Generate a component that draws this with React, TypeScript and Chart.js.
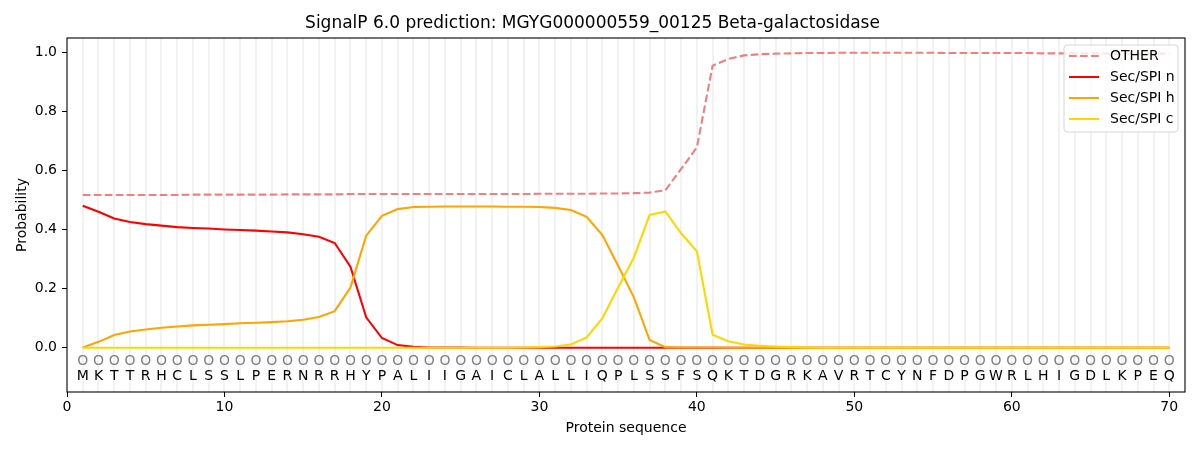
import React, { useRef, useEffect } from 'react';
import { Chart, registerables } from 'chart.js';

Chart.register(...registerables);

const residues = [
  'M', 'K', 'T', 'T', 'R', 'H', 'C', 'L', 'S', 'S',
  'L', 'P', 'E', 'R', 'N', 'R', 'R', 'H', 'Y', 'P',
  'A', 'L', 'I', 'I', 'G', 'A', 'I', 'C', 'L', 'A',
  'L', 'L', 'I', 'Q', 'P', 'L', 'S', 'S', 'F', 'S',
  'Q', 'K', 'T', 'D', 'G', 'R', 'K', 'A', 'V', 'R',
  'T', 'C', 'Y', 'N', 'F', 'D', 'P', 'G', 'W', 'R',
  'L', 'H', 'I', 'G', 'D', 'L', 'K', 'P', 'E', 'Q',
];

const otherProb = [
  0.518, 0.518, 0.518, 0.518, 0.518, 0.518, 0.518, 0.519, 0.519, 0.519,
  0.519, 0.519, 0.519, 0.520, 0.520, 0.520, 0.520, 0.521, 0.521, 0.521,
  0.521, 0.521, 0.521, 0.521, 0.521, 0.521, 0.521, 0.521, 0.521, 0.522,
  0.522, 0.522, 0.522, 0.523, 0.523, 0.524, 0.526, 0.534, 0.606, 0.679,
  0.956, 0.979, 0.991, 0.995, 0.997, 0.998, 0.999, 0.999, 1.0, 1.0,
  1.0, 1.0, 1.0, 1.0, 1.0, 0.999, 0.999, 0.999, 0.999, 0.999,
  0.999, 0.998, 0.998, 0.998, 0.998, 0.997, 0.997, 0.997, 0.997, 0.997,
];

const nProb = [
  0.481, 0.461, 0.438, 0.426, 0.419, 0.414, 0.409, 0.406, 0.404, 0.401,
  0.399, 0.397, 0.394, 0.391, 0.385, 0.376, 0.355, 0.275, 0.103, 0.033,
  0.009, 0.003, 0.001, 0.001, 0.001, 0.0, 0.0, 0.0, 0.0, 0.0,
  0.0, 0.0, 0.0, 0.0, 0.0, 0.0, 0.0, 0.0, 0.0, 0.0,
  0.0, 0.0, 0.0, 0.0, 0.0, 0.0, 0.0, 0.0, 0.0, 0.0,
  0.0, 0.0, 0.0, 0.0, 0.0, 0.0, 0.0, 0.0, 0.0, 0.0,
  0.0, 0.0, 0.0, 0.0, 0.0, 0.0, 0.0, 0.0, 0.0, 0.0,
];

const hProb = [
  0.001, 0.020, 0.043, 0.055, 0.062, 0.068, 0.072, 0.076, 0.078, 0.080,
  0.083, 0.085, 0.087, 0.090, 0.095, 0.104, 0.124, 0.204, 0.380, 0.447,
  0.470, 0.477, 0.478, 0.479, 0.479, 0.479, 0.479, 0.478, 0.478, 0.477,
  0.474, 0.467, 0.444, 0.382, 0.278, 0.171, 0.026, 0.002, 0.001, 0.001,
  0.001, 0.0, 0.0, 0.0, 0.0, 0.0, 0.0, 0.0, 0.0, 0.0,
  0.0, 0.0, 0.0, 0.0, 0.0, 0.0, 0.0, 0.0, 0.0, 0.0,
  0.0, 0.0, 0.0, 0.0, 0.0, 0.0, 0.0, 0.0, 0.0, 0.0,
];

const cProb = [
  0.0, 0.0, 0.0, 0.0, 0.0, 0.0, 0.0, 0.0, 0.0, 0.0,
  0.0, 0.0, 0.0, 0.0, 0.0, 0.0, 0.0, 0.0, 0.0, 0.0,
  0.0, 0.0, 0.0, 0.0, 0.0, 0.0, 0.0, 0.0, 0.001, 0.002,
  0.004, 0.011, 0.035, 0.100, 0.204, 0.306, 0.450, 0.462, 0.388, 0.327,
  0.044, 0.022, 0.011, 0.007, 0.004, 0.002, 0.001, 0.0, 0.0, 0.0,
  0.0, 0.0, 0.0, 0.0, 0.0, 0.0, 0.0, 0.0, 0.0, 0.0,
  0.0, 0.0, 0.0, 0.0, 0.0, 0.0, 0.0, 0.0, 0.0, 0.0,
];

const xTicks = [0, 10, 20, 30, 40, 50, 60, 70];
const yTicks = [0.0, 0.2, 0.4, 0.6, 0.8, 1.0];

const FONT = "'DejaVu Sans', sans-serif";

const toPoints = (vals: number[]) => vals.map((v, i) => ({ x: i + 1, y: v }));

// grid lines per residue, residue letters under the zero line, box frame and a matplotlib-like legend
const residuePlugin = {
  id: 'residues',
  beforeDatasetsDraw(chart: any) {
    const { ctx, chartArea, scales } = chart;
    ctx.save();
    ctx.strokeStyle = '#f2f2f2';
    ctx.lineWidth = 2;
    residues.forEach((_, i) => {
      const px = Math.round(scales.x.getPixelForValue(i + 1));
      ctx.beginPath();
      ctx.moveTo(px, chartArea.top);
      ctx.lineTo(px, chartArea.bottom);
      ctx.stroke();
    });
    ctx.restore();
  },
  afterDatasetsDraw(chart: any) {
    const { ctx, chartArea, scales } = chart;
    ctx.save();
    ctx.font = `14px ${FONT}`;
    ctx.textAlign = 'center';
    ctx.textBaseline = 'middle';
    residues.forEach((r, i) => {
      const px = scales.x.getPixelForValue(i + 1);
      ctx.fillStyle = '#808080';
      ctx.fillText('O', px, scales.y.getPixelForValue(-0.047));
      ctx.fillStyle = '#000';
      ctx.fillText(r, px, scales.y.getPixelForValue(-0.097));
    });

    // legend
    const w = 114;
    const h = 87;
    const lx = chartArea.right - 7 - w;
    const ly = chartArea.top + 7;
    ctx.beginPath();
    ctx.roundRect(lx, ly, w, h, 3);
    ctx.fillStyle = 'rgba(255,255,255,0.8)';
    ctx.fill();
    ctx.strokeStyle = '#d6d6d6';
    ctx.lineWidth = 1;
    ctx.stroke();
    ctx.textAlign = 'left';
    chart.data.datasets.forEach((ds: any, i: number) => {
      const yy = ly + 11 + i * 21;
      ctx.beginPath();
      ctx.setLineDash(ds.borderDash || []);
      ctx.strokeStyle = ds.borderColor;
      ctx.lineWidth = 2;
      ctx.moveTo(lx + 5, yy);
      ctx.lineTo(lx + 35, yy);
      ctx.stroke();
      ctx.setLineDash([]);
      ctx.fillStyle = '#000';
      ctx.fillText(ds.label, lx + 46, yy);
    });

    // frame
    ctx.strokeStyle = '#000';
    ctx.lineWidth = 1.1;
    ctx.strokeRect(chartArea.left, chartArea.top, chartArea.right - chartArea.left, chartArea.bottom - chartArea.top);
    ctx.restore();
  },
};

function SignalPChart() {
  const chartRef = useRef<HTMLCanvasElement>(null);
  const chartInstance = useRef<any>(null);

  useEffect(() => {
    document.body.style.margin = '0';
    const ctx = chartRef.current.getContext('2d');

    if (chartInstance.current) {
      chartInstance.current.destroy();
    }

    const line = { pointRadius: 0, borderWidth: 2.1, tension: 0, fill: false };

    chartInstance.current = new Chart(ctx, {
      type: 'line',
      data: {
        datasets: [
          { ...line, label: 'OTHER', data: toPoints(otherProb), borderColor: '#f08080', borderDash: [7.7, 3.3], order: 3 },
          { ...line, label: 'Sec/SPI n', data: toPoints(nProb), borderColor: '#ff0000', order: 2 },
          { ...line, label: 'Sec/SPI h', data: toPoints(hProb), borderColor: '#ffa500', order: 1 },
          { ...line, label: 'Sec/SPI c', data: toPoints(cProb), borderColor: '#ffd700', order: 0 },
        ],
      },
      options: {
        animation: false,
        responsive: true,
        maintainAspectRatio: false,
        layout: { padding: { left: 0, right: 15, top: 0, bottom: 0 } },
        plugins: {
          legend: { display: false },
          tooltip: { enabled: false },
          title: {
            display: true,
            text: 'SignalP 6.0 prediction: MGYG000000559_00125 Beta-galactosidase',
            color: '#000',
            font: { family: FONT, size: 17, weight: 'normal' },
            padding: { top: 13, bottom: 4.6 },
          },
        },
        scales: {
          x: {
            type: 'linear',
            min: 0,
            max: 71,
            afterBuildTicks: (scale: any) => {
              scale.ticks = xTicks.map((v) => ({ value: v }));
            },
            afterFit: (scale: any) => {
              scale.height = 58;
            },
            ticks: {
              color: '#000',
              font: { family: FONT, size: 14 },
              padding: 2,
              maxRotation: 0,
              autoSkip: false,
            },
            grid: { drawOnChartArea: false, drawTicks: true, tickLength: 5, color: '#000' },
            border: { display: false },
            title: {
              display: true,
              text: 'Protein sequence',
              color: '#000',
              font: { family: FONT, size: 14 },
              padding: { top: 0, bottom: 13 },
            },
          },
          y: {
            type: 'linear',
            min: -0.15,
            max: 1.05,
            afterBuildTicks: (scale: any) => {
              scale.ticks = yTicks.map((v) => ({ value: v }));
            },
            afterFit: (scale: any) => {
              scale.width = 67;
            },
            ticks: {
              color: '#000',
              font: { family: FONT, size: 14 },
              padding: 5,
              callback: (v: any) => Number(v).toFixed(1),
            },
            grid: { drawOnChartArea: false, drawTicks: true, tickLength: 5, color: '#000' },
            border: { display: false },
            title: {
              display: true,
              text: 'Probability',
              color: '#000',
              font: { family: FONT, size: 14 },
              padding: { top: 14, bottom: 0 },
            },
          },
        },
      },
      plugins: [residuePlugin],
    });

    return () => {
      if (chartInstance.current) {
        chartInstance.current.destroy();
        chartInstance.current = null;
      }
    };
  }, []);

  return (
    <div style={{ position: 'absolute', left: 0, top: 0, width: 1200, height: 450, background: '#fff' }}>
      <canvas ref={chartRef}></canvas>
    </div>
  );
}

export default function App() {
  return <SignalPChart />;
}
